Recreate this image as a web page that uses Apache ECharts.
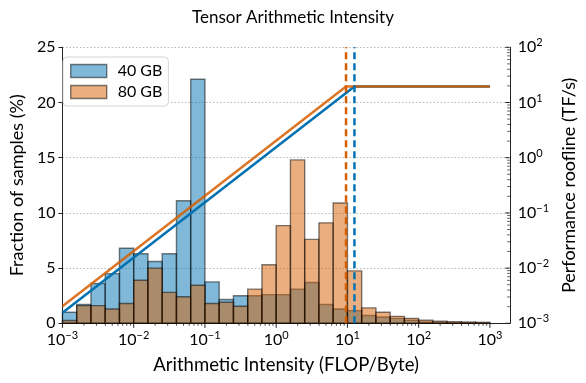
<!DOCTYPE html>
<html>
<head>
<meta charset="utf-8">
<script src="https://cdn.jsdelivr.net/npm/echarts@6/dist/echarts.min.js"></script>
<style>
html,body{margin:0;padding:0;background:#fff;}
#chart{width:586px;height:383px;}
</style>
</head>
<body>
<div id="chart"></div>
<script>
// Histogram bins: 5 log-spaced bins per decade from 1e-3 to 1e3
var binExpStart = -3, binExpEnd = 3, binsPerDecade = 5;
// Fraction of samples (%) per bin
var pct40 = [1.0,1.7,3.6,4.5,6.8,6.3,5.6,6.3,11.1,22.1,3.75,2.15,2.5,2.5,2.6,2.6,3.1,3.7,1.7,1.3,1.15,0.7,0.57,0.45,0.27,0.12,0.08,0.06,0.05,0.04];
var pct80 = [0.25,1.6,1.6,1.3,1.8,3.9,5.0,2.8,2.4,3.45,1.8,1.9,1.55,3.1,5.3,8.85,14.8,7.6,9.1,10.9,4.75,1.4,1.0,0.63,0.45,0.27,0.18,0.15,0.12,0.09];
// Roofline points [FLOP/Byte, TF/s]
var roof40 = [[0.001, 0.001555], [12.54, 19.5], [1000, 19.5]];
var roof80 = [[0.001, 0.002039], [9.56, 19.5], [1000, 19.5]];
var ridge40 = 12.54, ridge80 = 9.56;
var seriesNames = ['40 GB', '80 GB'];
var xMin = 0.001, xMax = 1900;
var yLeftMax = 25, yRightMin = 0.001, yRightMax = 100;

var BLUE = '#0072B2', ORANGE = '#D55E00';
var FONT = 'Lato';

var edges = [];
var nb = (binExpEnd - binExpStart) * binsPerDecade;
for (var i = 0; i <= nb; i++) edges.push(Math.pow(10, binExpStart + i / binsPerDecade));
function binData(vals){ return vals.map(function(v,i){ return [edges[i], edges[i+1], v]; }); }

// axis tick positions (major + minor) for log axes
function logTicks(lo, hi){
  var out = [];
  for (var e = Math.floor(Math.log10(lo)); e <= Math.ceil(Math.log10(hi)); e++){
    for (var m = 1; m <= 9; m++){
      var v = m * Math.pow(10, e);
      if (v >= lo * 0.999 && v <= hi * 1.001) out.push([v, m === 1 ? 1 : 0]);
    }
  }
  return out;
}
var xTicks = logTicks(xMin, 1000);
var yRTicks = logTicks(yRightMin, yRightMax);

function pow10(v){
  var e = Math.round(Math.log10(v));
  return '10{s|' + (e < 0 ? '\u2212' + (-e) : e) + '}';
}
var labelRich = { s: { fontSize: 11, fontFamily: FONT, color: '#000', padding: [0,0,9,0] } };

function histItem(fill){
  return function(params, api){
    var p0 = api.coord([api.value(0), 0]);
    var p1 = api.coord([api.value(1), api.value(2)]);
    if (api.value(2) <= 0) return null;
    return { type: 'rect', shape: { x: p0[0], y: p1[1], width: p1[0]-p0[0], height: p0[1]-p1[1] },
      style: { fill: fill, stroke: 'rgba(0,0,0,0.5)', lineWidth: 1.4 } };
  };
}

var chart = echarts.init(document.getElementById('chart'), null, {renderer: 'canvas'});
var option = {
  animation: false,
  backgroundColor: '#fff',
  textStyle: { fontFamily: FONT },
  title: { text: 'Tensor Arithmetic Intensity', left: 'center', top: 4,
    textStyle: { fontFamily: FONT, fontSize: 17, fontWeight: 'normal', color: '#000' } },
  legend: {
    left: 63, top: 57, orient: 'vertical', itemWidth: 36, itemHeight: 13, itemGap: 5,
    padding: [6, 6, 6, 7], backgroundColor: '#fff', borderColor: '#d5d5d5', borderWidth: 1, borderRadius: 4,
    textStyle: { fontFamily: FONT, fontSize: 16, color: '#000', padding: [0,0,0,6] },
    data: [
      { name: seriesNames[0], icon: 'rect', itemStyle: { color: 'rgba(0,114,178,0.5)', borderColor: 'rgba(0,0,0,0.5)', borderWidth: 1.4 } },
      { name: seriesNames[1], icon: 'rect', itemStyle: { color: 'rgba(213,94,0,0.5)', borderColor: 'rgba(0,0,0,0.5)', borderWidth: 1.4 } }
    ]
  },
  grid: { left: 54.5, right: 72.7, top: 47.3, bottom: 59.7, containLabel: false },
  xAxis: {
    type: 'log', logBase: 10, min: xMin, max: xMax,
    name: 'Arithmetic Intensity (FLOP/Byte)', nameLocation: 'middle', nameGap: 32,
    nameTextStyle: { fontFamily: FONT, fontSize: 18.5, color: '#000' },
    axisLine: { lineStyle: { color: '#222', width: 1 } },
    axisTick: { show: false },
    axisLabel: { formatter: pow10, rich: labelRich, fontFamily: FONT, fontSize: 16, color: '#000', margin: 7, showMaxLabel: false },
    splitLine: { show: false }
  },
  yAxis: [
    { type: 'value', min: 0, max: yLeftMax, interval: 5,
      name: 'Fraction of samples (%)', nameLocation: 'middle', nameGap: 27, nameRotate: 90,
      nameTextStyle: { fontFamily: FONT, fontSize: 18, color: '#000' },
      axisLine: { show: true, lineStyle: { color: '#222', width: 1 } },
      axisTick: { show: true, length: 4, lineStyle: { color: '#222' } },
      axisLabel: { fontFamily: FONT, fontSize: 16, color: '#000', margin: 7 },
      splitLine: { show: true, lineStyle: { color: '#b8b8b8', type: [1.5, 2], width: 1 } }
    },
    { type: 'log', logBase: 10, min: yRightMin, max: yRightMax, position: 'right',
      name: 'Performance roofline (TF/s)', nameLocation: 'middle', nameGap: 44, nameRotate: 90,
      nameTextStyle: { fontFamily: FONT, fontSize: 18, color: '#000' },
      axisLine: { show: true, lineStyle: { color: '#222', width: 1 } },
      axisTick: { show: false },
      axisLabel: { formatter: pow10, rich: labelRich, fontFamily: FONT, fontSize: 16, color: '#000', margin: 8 },
      splitLine: { show: false }
    }
  ],
  series: [
    { name: seriesNames[0], type: 'custom', xAxisIndex: 0, yAxisIndex: 0, renderItem: histItem('rgba(0,114,178,0.5)'),
      data: binData(pct40), encode: { x: [0,1], y: 2 }, itemStyle: { color: 'rgba(0,114,178,0.5)' }, z: 2 },
    { name: seriesNames[1], type: 'custom', xAxisIndex: 0, yAxisIndex: 0, renderItem: histItem('rgba(213,94,0,0.5)'),
      data: binData(pct80), encode: { x: [0,1], y: 2 }, itemStyle: { color: 'rgba(213,94,0,0.5)' }, z: 2 },
    { name: 'roof40', type: 'line', yAxisIndex: 1, data: roof40, showSymbol: false, symbol: 'none',
      lineStyle: { color: BLUE, width: 2.5 }, z: 3 },
    { name: 'roof80', type: 'line', yAxisIndex: 1, data: roof80, showSymbol: false, symbol: 'none',
      lineStyle: { color: ORANGE, width: 2.5, opacity: 0.85 }, z: 3 },
    { name: 'ridge80', type: 'line', yAxisIndex: 1, data: [[ridge80, yRightMin], [ridge80, yRightMax]], symbol: 'none',
      lineStyle: { color: ORANGE, width: 2.5, type: [7, 4] }, z: 4 },
    { name: 'ridge40', type: 'line', yAxisIndex: 1, data: [[ridge40, yRightMin], [ridge40, yRightMax]], symbol: 'none',
      lineStyle: { color: BLUE, width: 2.5, type: [7, 4] }, z: 4 },
    { name: 'xticks', type: 'custom', yAxisIndex: 0, clip: false, silent: true, data: xTicks, z: 5,
      renderItem: function(params, api){
        var p = api.coord([api.value(0), 0]);
        var len = api.value(1) ? 4.5 : 2.5;
        return { type: 'line', shape: { x1: p[0], y1: p[1], x2: p[0], y2: p[1] + len },
          style: { stroke: '#222', lineWidth: api.value(1) ? 1 : 0.8 } };
      } },
    { name: 'yticks', type: 'custom', yAxisIndex: 1, clip: false, silent: true, data: yRTicks.map(function(t){ return [xMax, t[0], t[1]]; }), z: 5,
      encode: { x: 0, y: 1 },
      renderItem: function(params, api){
        var p = api.coord([api.value(0), api.value(1)]);
        var len = api.value(2) ? 4.5 : 2.5;
        return { type: 'line', shape: { x1: p[0], y1: p[1], x2: p[0] - len, y2: p[1] },
          style: { stroke: '#222', lineWidth: api.value(2) ? 1 : 0.8 } };
      } }
  ]
};
chart.setOption(option);
</script>
</body>
</html>
